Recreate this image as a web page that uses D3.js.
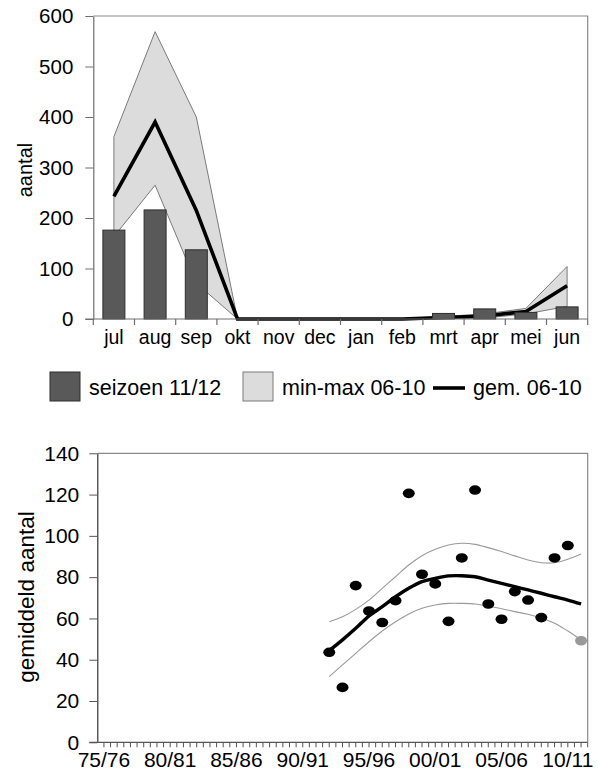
<!DOCTYPE html>
<html><head><meta charset="utf-8">
<script src="https://cdn.jsdelivr.net/npm/d3@7"></script>
<style>
html,body{margin:0;padding:0;background:#fff;}
svg{display:block;font-family:"Liberation Sans",Arial,Helvetica,sans-serif;}
</style></head>
<body>
<svg id="c" width="598" height="772"></svg>
<script>
// ---------- data: top chart ----------
const months = ["jul","aug","sep","okt","nov","dec","jan","feb","mrt","apr","mei","jun"];
const seasonValues = [176, 216, 137, 0, 0, 0, 0, 0, 11, 20, 13, 24];
const meanValues   = [243, 390, 215, 0, 0, 0, 0, 0, 3, 6, 15, 66];
const maxValues    = [361, 569, 400, 0, 0, 0, 0, 1, 5, 10, 21, 104];
const minValues    = [163, 265, 71, 0, 0, 0, 0, 0, 1, 2, 10, 25];
const topTicks = [0, 100, 200, 300, 400, 500, 600];
const legendLabels = ["seizoen 11/12", "min-max 06-10", "gem. 06-10"];

// ---------- data: bottom chart ----------
const seasons = ["75/76","76/77","77/78","78/79","79/80","80/81","81/82","82/83","83/84","84/85",
  "85/86","86/87","87/88","88/89","89/90","90/91","91/92","92/93","93/94","94/95",
  "95/96","96/97","97/98","98/99","99/00","00/01","01/02","02/03","03/04","04/05",
  "05/06","06/07","07/08","08/09","09/10","10/11","11/12"];
const seasonLabels = ["75/76","80/81","85/86","90/91","95/96","00/01","05/06","10/11"];
const obsSeasons = ["92/93","93/94","94/95","95/96","96/97","97/98","98/99","99/00","00/01","01/02",
  "02/03","03/04","04/05","05/06","06/07","07/08","08/09","09/10","10/11"];
const obsValues  = [43.6, 26.6, 75.9, 63.6, 58.0, 68.6, 120.6, 81.4, 76.7, 58.6,
  89.3, 122.2, 67.0, 59.6, 73.0, 68.9, 60.4, 89.3, 95.3];
const currentSeason = "11/12";
const currentValue = 49.2;
const trendSeasons = ["92/93","93/94","94/95","95/96","96/97","97/98","98/99","99/00","00/01","01/02",
  "02/03","03/04","04/05","05/06","06/07","07/08","08/09","09/10","10/11","11/12"];
const trendValues = [44.4, 49.6, 55.2, 61.2, 65.7, 70.5, 74.6, 77.8, 79.4, 80.6,
  80.7, 80.2, 78.6, 77.0, 75.4, 73.8, 72.2, 70.5, 68.9, 67.0];
const upperValues = [58.4, 60.8, 64.4, 68.9, 74.6, 80.2, 85.9, 90.4, 93.5, 95.6,
  96.4, 95.9, 94.3, 92.4, 90.3, 88.3, 87.0, 87.0, 88.7, 91.2];
const lowerValues = [31.8, 37.5, 43.1, 48.7, 53.9, 58.4, 62.2, 64.9, 66.5, 67.3,
  67.3, 67.0, 66.0, 64.7, 63.3, 62.0, 60.1, 57.7, 53.9, 49.6];
const bottomTicks = [0, 20, 40, 60, 80, 100, 120, 140];

const svg = d3.select("#c");
const axisCol = "#6e6e6e";

// ================= TOP CHART =================
const T = {l: 93.3, r: 587.7, t: 16, b: 319};
const xT = d3.scaleBand().domain(months).range([T.l, T.r]).padding(0);
const yT = d3.scaleLinear().domain([0, 600]).range([T.b, T.t]);
const cx = m => xT(m) + xT.bandwidth() / 2;
const topG = svg.append("g");

topG.append("path").attr("d", `M${T.l},${T.t}H${T.r}V${T.b}`)
  .attr("fill", "none").attr("stroke", "#8a8a8a").attr("stroke-width", 1.2);

// band
const bandData = months.map((m, i) => ({m, lo: minValues[i], hi: maxValues[i]}));
topG.append("path").datum(bandData)
  .attr("d", d3.area().x(d => cx(d.m)).y0(d => yT(d.lo)).y1(d => yT(d.hi)))
  .attr("fill", "#dcdcdc").attr("stroke", "#7a7a7a").attr("stroke-width", 1);

// mean line
topG.append("path").datum(months.map((m, i) => ({m, v: meanValues[i]})))
  .attr("d", d3.line().x(d => cx(d.m)).y(d => yT(d.v)))
  .attr("fill", "none").attr("stroke", "#000").attr("stroke-width", 3.6)
  .attr("stroke-linejoin", "miter");

// bars
const barW = 22;
topG.selectAll("rect.bar").data(months.map((m, i) => ({m, v: seasonValues[i]})).filter(d => d.v > 0))
  .enter().append("rect").attr("class", "bar")
  .attr("x", d => cx(d.m) - barW / 2).attr("width", barW)
  .attr("y", d => yT(d.v)).attr("height", d => T.b - yT(d.v))
  .attr("fill", "#595959").attr("stroke", "#2e2e2e").attr("stroke-width", 1);

// y axis
const yAxT = topG.append("g").attr("transform", `translate(${T.l},0)`)
  .call(d3.axisLeft(yT).tickValues(topTicks).tickSize(8).tickPadding(12).tickSizeOuter(0));
yAxT.select(".domain").attr("stroke", axisCol).attr("stroke-width", 1.2);
yAxT.selectAll(".tick line").attr("stroke", axisCol);
yAxT.selectAll("text").attr("font-size", 20.5).attr("fill", "#000")
  .attr("font-family", "Liberation Sans, Arial, sans-serif");

// x axis line + ticks
topG.append("line").attr("x1", T.l - 8).attr("x2", T.r).attr("y1", T.b).attr("y2", T.b)
  .attr("stroke", axisCol).attr("stroke-width", 1.2);
const bounds = months.map(m => xT(m)).concat([T.r]);
topG.selectAll("line.xt").data(bounds).enter().append("line").attr("class", "xt")
  .attr("x1", d => d).attr("x2", d => d).attr("y1", T.b).attr("y2", T.b + 6)
  .attr("stroke", axisCol).attr("stroke-width", 1.2);
topG.selectAll("text.mon").data(months).enter().append("text").attr("class", "mon")
  .attr("x", d => cx(d)).attr("y", 344).attr("text-anchor", "middle")
  .attr("font-size", 19.5).text(d => d);

// y title
topG.append("text").attr("transform", "translate(32,170) rotate(-90)")
  .attr("text-anchor", "middle").attr("font-size", 20).text("aantal");

// legend
const lg = svg.append("g");
lg.append("rect").attr("x", 50).attr("y", 372).attr("width", 30).attr("height", 29)
  .attr("fill", "#595959").attr("stroke", "#2e2e2e");
lg.append("text").attr("x", 89).attr("y", 395).attr("font-size", 21.5).text(legendLabels[0]);
lg.append("rect").attr("x", 243).attr("y", 372).attr("width", 30).attr("height", 29)
  .attr("fill", "#dcdcdc").attr("stroke", "#7a7a7a");
lg.append("text").attr("x", 282).attr("y", 395).attr("font-size", 21.5).text(legendLabels[1]);
lg.append("line").attr("x1", 433).attr("x2", 465).attr("y1", 388).attr("y2", 388)
  .attr("stroke", "#000").attr("stroke-width", 3.6);
lg.append("text").attr("x", 473).attr("y", 395).attr("font-size", 21.5).text(legendLabels[2]);

// ================= BOTTOM CHART =================
const B = {l: 97.3, r: 587.7, t: 453.3, b: 742.3};
const xB = d3.scaleBand().domain(seasons).range([B.l, B.r]).padding(0);
const yB = d3.scaleLinear().domain([0, 140]).range([B.b, B.t]);
const bx = s => xB(s) + xB.bandwidth() / 2;
const botG = svg.append("g");

botG.append("path").attr("d", `M${B.l},${B.t}H${B.r}V${B.b}`)
  .attr("fill", "none").attr("stroke", "#8a8a8a").attr("stroke-width", 1.2);

const curve = d3.curveCatmullRom.alpha(0.5);
const mk = vals => trendSeasons.map((s, i) => ({s, v: vals[i]}));
const lineB = d3.line().x(d => bx(d.s)).y(d => yB(d.v)).curve(curve);
botG.append("path").datum(mk(upperValues)).attr("d", lineB)
  .attr("fill", "none").attr("stroke", "#9a9a9a").attr("stroke-width", 1.1);
botG.append("path").datum(mk(lowerValues)).attr("d", lineB)
  .attr("fill", "none").attr("stroke", "#9a9a9a").attr("stroke-width", 1.1);

botG.selectAll("ellipse.pt").data(obsSeasons.map((s, i) => ({s, v: obsValues[i]})))
  .enter().append("ellipse").attr("class", "pt")
  .attr("cx", d => bx(d.s)).attr("cy", d => yB(d.v)).attr("rx", 6).attr("ry", 4.8)
  .attr("fill", "#000");
botG.append("ellipse").attr("cx", bx(currentSeason)).attr("cy", yB(currentValue))
  .attr("rx", 6).attr("ry", 4.8).attr("fill", "#999");

botG.append("path").datum(mk(trendValues)).attr("d", lineB)
  .attr("fill", "none").attr("stroke", "#000").attr("stroke-width", 3.4);

const yAxB = botG.append("g").attr("transform", `translate(${B.l},0)`)
  .call(d3.axisLeft(yB).tickValues(bottomTicks).tickSize(8).tickPadding(10).tickSizeOuter(0));
yAxB.select(".domain").attr("stroke", "#333").attr("stroke-width", 1.2);
yAxB.selectAll(".tick line").attr("stroke", "#555");
yAxB.selectAll("text").attr("font-size", 21).attr("fill", "#000")
  .attr("font-family", "Liberation Sans, Arial, sans-serif");

botG.append("line").attr("x1", B.l - 8).attr("x2", B.r).attr("y1", B.b).attr("y2", B.b)
  .attr("stroke", "#555").attr("stroke-width", 1.2);
const halfTicks = [];
seasons.forEach(s => { halfTicks.push(xB(s)); halfTicks.push(bx(s)); });
halfTicks.push(B.r);
botG.selectAll("line.bt").data(halfTicks.slice(1)).enter().append("line").attr("class", "bt")
  .attr("x1", d => d).attr("x2", d => d).attr("y1", B.b).attr("y2", B.b + 5)
  .attr("stroke", "#555").attr("stroke-width", 1);
botG.selectAll("text.sl").data(seasonLabels).enter().append("text").attr("class", "sl")
  .attr("x", d => bx(d)).attr("y", 767).attr("text-anchor", "middle")
  .attr("font-size", 21).text(d => d);

botG.append("text").attr("transform", "translate(34,597) rotate(-90)")
  .attr("text-anchor", "middle").attr("font-size", 22.5).text("gemiddeld aantal");
</script>
</body></html>
